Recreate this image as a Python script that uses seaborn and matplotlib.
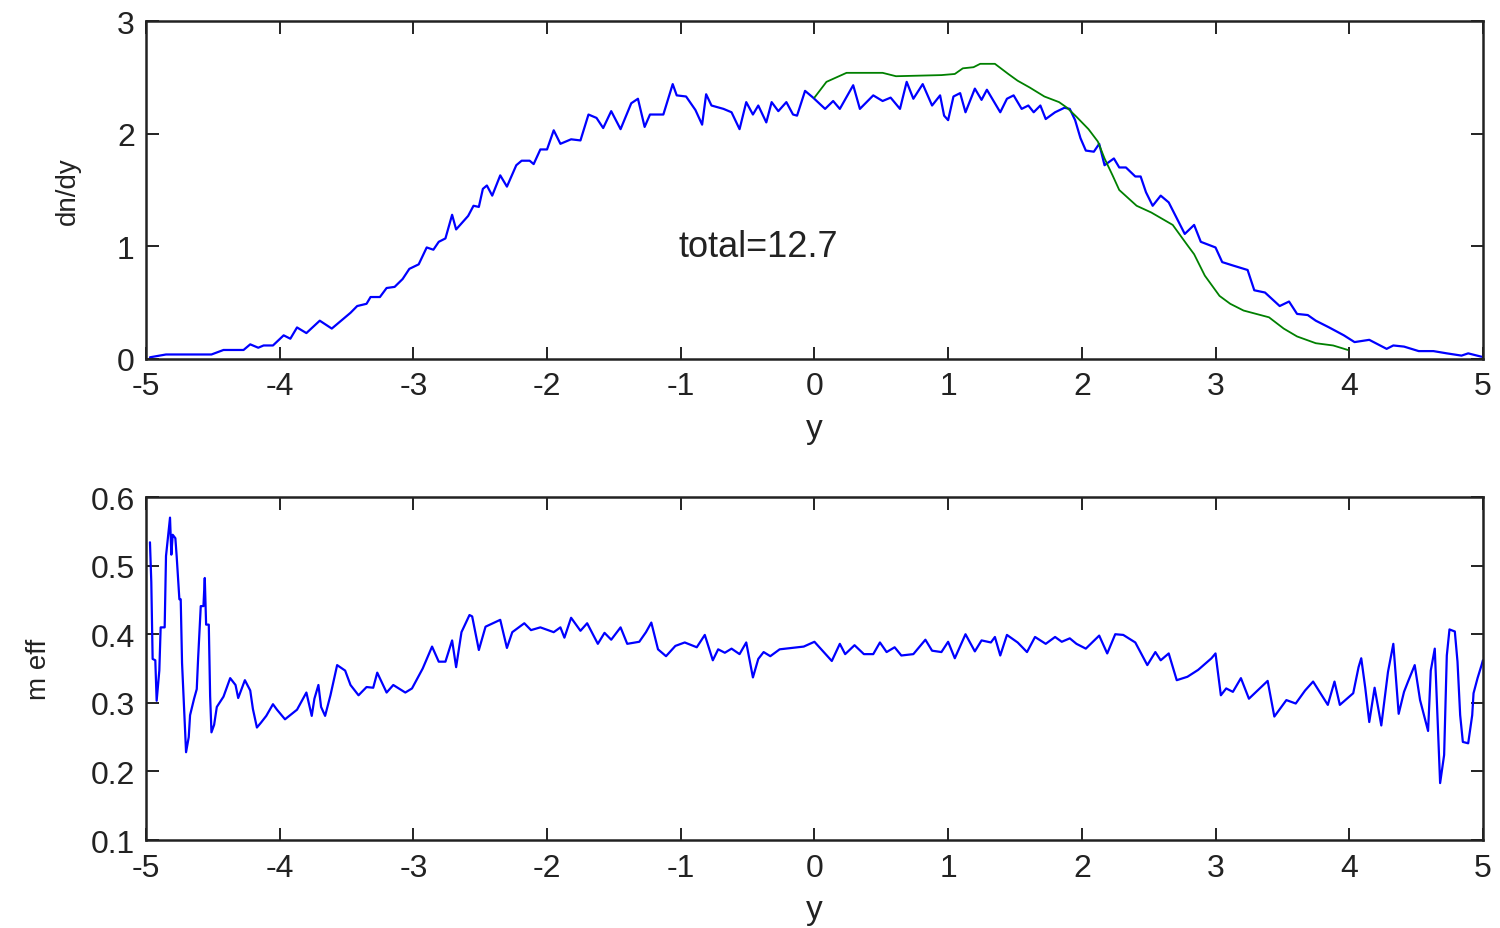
"""Rapidity distribution dn/dy and effective mass m eff versus y"""

import matplotlib
matplotlib.use("Agg")
import matplotlib.pyplot as plt
import pandas as pd
import seaborn as sns

# top panel, blue curve: dn/dy
dndy_y = [-4.97, -4.85, -4.51, -4.42, -4.27, -4.22, -4.16, -4.12, -4.05, -3.97, -3.92, -3.87, -3.80,
          -3.70, -3.61, -3.47, -3.42, -3.35, -3.32, -3.25, -3.20, -3.14, -3.08, -3.03, -2.96, -2.90,
          -2.85, -2.81, -2.76, -2.71, -2.68, -2.59, -2.55, -2.51, -2.48, -2.45, -2.41, -2.35, -2.30,
          -2.23, -2.19, -2.13, -2.10, -2.05, -2.00, -1.95, -1.90, -1.82, -1.75, -1.69, -1.63, -1.58,
          -1.52, -1.45, -1.37, -1.32, -1.27, -1.23, -1.13, -1.06, -1.03, -0.96, -0.89, -0.84, -0.81,
          -0.77, -0.68, -0.62, -0.56, -0.51, -0.46, -0.42, -0.36, -0.32, -0.27, -0.21, -0.16, -0.13,
          -0.07, -0.01, 0.08, 0.14, 0.19, 0.29, 0.34, 0.44, 0.51, 0.57, 0.64, 0.69, 0.74, 0.81, 0.88,
          0.94, 0.97, 1.00, 1.04, 1.09, 1.13, 1.20, 1.25, 1.29, 1.33, 1.39, 1.44, 1.49, 1.55, 1.60,
          1.64, 1.69, 1.73, 1.80, 1.87, 1.91, 1.95, 1.99, 2.03, 2.09, 2.13, 2.17, 2.24, 2.28, 2.33,
          2.40, 2.44, 2.48, 2.53, 2.59, 2.65, 2.71, 2.77, 2.84, 2.89, 3.00, 3.05, 3.13, 3.24, 3.29,
          3.37, 3.48, 3.55, 3.61, 3.69, 3.75, 3.85, 3.96, 4.04, 4.15, 4.28, 4.33, 4.41, 4.52, 4.63,
          4.73, 4.84, 4.89, 4.99]
dndy_val = [0.015, 0.04, 0.04, 0.08, 0.08, 0.13, 0.10, 0.12, 0.12, 0.21, 0.18, 0.28, 0.23,
            0.34, 0.27, 0.41, 0.47, 0.49, 0.55, 0.55, 0.63, 0.64, 0.71, 0.80, 0.84, 0.99,
            0.97, 1.04, 1.07, 1.28, 1.15, 1.27, 1.36, 1.35, 1.51, 1.54, 1.45, 1.63, 1.53,
            1.72, 1.76, 1.76, 1.73, 1.86, 1.86, 2.03, 1.91, 1.95, 1.94, 2.17, 2.14, 2.05,
            2.20, 2.04, 2.27, 2.31, 2.06, 2.17, 2.17, 2.44, 2.34, 2.33, 2.21, 2.08, 2.35,
            2.25, 2.22, 2.19, 2.04, 2.28, 2.17, 2.25, 2.10, 2.28, 2.20, 2.28, 2.17, 2.16,
            2.38, 2.32, 2.22, 2.29, 2.22, 2.43, 2.22, 2.34, 2.29, 2.32, 2.22, 2.46, 2.31, 2.44, 2.25,
            2.34, 2.16, 2.12, 2.33, 2.36, 2.19, 2.40, 2.30, 2.39, 2.31, 2.19, 2.31, 2.34, 2.22, 2.25,
            2.19, 2.25, 2.13, 2.19, 2.23, 2.22, 2.12, 1.96, 1.85, 1.84, 1.91, 1.72, 1.78, 1.70, 1.70,
            1.62, 1.62, 1.48, 1.36, 1.45, 1.39, 1.25, 1.11, 1.19, 1.04, 0.99, 0.86, 0.83, 0.79, 0.61,
            0.59, 0.47, 0.51, 0.40, 0.39, 0.34, 0.28, 0.21, 0.15, 0.17, 0.09, 0.12, 0.11, 0.07, 0.07,
            0.05, 0.03, 0.05, 0.02]

# top panel, green curve (y > 0 only)
ref_y = [0.00, 0.09, 0.24, 0.51, 0.61, 0.95, 1.05, 1.11, 1.19, 1.24, 1.35, 1.45, 1.52, 1.61,
         1.72, 1.83, 1.89, 1.96, 2.05, 2.12, 2.17, 2.23, 2.28, 2.41, 2.52, 2.68, 2.79, 2.84,
         2.92, 3.03, 3.11, 3.21, 3.40, 3.51, 3.61, 3.75, 3.88, 3.99]
ref_val = [2.32, 2.46, 2.54, 2.54, 2.51, 2.52, 2.53, 2.58, 2.59, 2.62, 2.62, 2.53, 2.47, 2.41,
           2.33, 2.28, 2.23, 2.15, 2.04, 1.93, 1.78, 1.63, 1.50, 1.36, 1.30, 1.19, 1.01, 0.93,
           0.74, 0.56, 0.49, 0.43, 0.37, 0.27, 0.20, 0.14, 0.12, 0.08]

# bottom panel: m eff
meff_y = [-4.97, -4.96, -4.95, -4.93, -4.92, -4.90, -4.89, -4.86, -4.85, -4.82, -4.81, -4.80,
          -4.78, -4.77, -4.75, -4.74, -4.73, -4.71, -4.70, -4.68, -4.67, -4.64, -4.62, -4.61,
          -4.59, -4.57, -4.56, -4.55, -4.53, -4.52, -4.51, -4.49, -4.47, -4.42, -4.37, -4.33,
          -4.31, -4.26, -4.22, -4.20, -4.17, -4.14, -4.10, -4.05, -4.02, -3.96, -3.87, -3.80,
          -3.76, -3.74, -3.71, -3.69, -3.66, -3.62, -3.57, -3.51, -3.47, -3.41, -3.35, -3.30,
          -3.27, -3.20, -3.15, -3.06, -3.01, -2.93, -2.86, -2.81, -2.76, -2.71, -2.68, -2.64,
          -2.58, -2.56, -2.51, -2.46, -2.35, -2.30, -2.26, -2.17, -2.12, -2.05, -1.95, -1.90,
          -1.87, -1.82, -1.75, -1.70, -1.62, -1.57, -1.52, -1.45, -1.40, -1.31, -1.26, -1.22,
          -1.17, -1.11, -1.04, -0.97, -0.88, -0.82, -0.76, -0.72, -0.67, -0.62, -0.56, -0.51,
          -0.46, -0.42, -0.38, -0.33, -0.26, -0.08, 0.00, 0.13, 0.19, 0.23, 0.30, 0.37, 0.44,
          0.49, 0.54, 0.60, 0.65, 0.74, 0.83, 0.88, 0.95, 1.00, 1.05, 1.13, 1.20, 1.25, 1.32,
          1.35, 1.39, 1.44, 1.52, 1.59, 1.65, 1.73, 1.80, 1.85, 1.91, 1.96, 2.03, 2.13, 2.19,
          2.25, 2.31, 2.40, 2.49, 2.55, 2.59, 2.65, 2.71, 2.79, 2.87, 2.97, 3.00, 3.04, 3.08,
          3.13, 3.19, 3.25, 3.39, 3.44, 3.53, 3.60, 3.67, 3.73, 3.84, 3.89, 3.93, 4.03, 4.07,
          4.09, 4.12, 4.15, 4.19, 4.24, 4.27, 4.29, 4.33, 4.37, 4.41, 4.44, 4.49, 4.53, 4.59,
          4.61, 4.64, 4.68, 4.71, 4.72, 4.73, 4.75, 4.79, 4.81, 4.83, 4.85, 4.89, 4.92, 4.93,
          4.96, 4.99, 5.00]
meff_val = [0.534, 0.476, 0.364, 0.362, 0.303, 0.347, 0.410, 0.410, 0.514, 0.570, 0.516, 0.545,
            0.540, 0.513, 0.451, 0.451, 0.358, 0.272, 0.228, 0.250, 0.282, 0.306, 0.320, 0.364,
            0.441, 0.441, 0.482, 0.414, 0.414, 0.310, 0.257, 0.268, 0.294, 0.309, 0.336, 0.326,
            0.307, 0.333, 0.318, 0.291, 0.264, 0.271, 0.281, 0.298, 0.290, 0.276, 0.290, 0.315,
            0.281, 0.306, 0.326, 0.294, 0.281, 0.311, 0.355, 0.347, 0.326, 0.311, 0.323, 0.322,
            0.344, 0.315, 0.326, 0.315, 0.321, 0.350, 0.382, 0.360, 0.360, 0.391, 0.352, 0.403,
            0.428, 0.426, 0.377, 0.411, 0.421, 0.380, 0.403, 0.416, 0.406, 0.410, 0.403, 0.410,
            0.395, 0.424, 0.405, 0.416, 0.386, 0.402, 0.392, 0.410, 0.386, 0.389, 0.403, 0.417,
            0.378, 0.368, 0.383, 0.388, 0.381, 0.399, 0.362, 0.378, 0.373, 0.379, 0.371, 0.388,
            0.337, 0.364, 0.374, 0.368, 0.378, 0.382, 0.389, 0.361, 0.386, 0.371, 0.384, 0.371, 0.371,
            0.388, 0.374, 0.381, 0.369, 0.371, 0.392, 0.376, 0.374, 0.389, 0.365, 0.400, 0.375, 0.391, 0.388,
            0.396, 0.369, 0.399, 0.388, 0.374, 0.396, 0.386, 0.396, 0.389, 0.394, 0.386, 0.379, 0.398, 0.372,
            0.400, 0.399, 0.388, 0.355, 0.374, 0.362, 0.372, 0.333, 0.338, 0.348, 0.365, 0.372, 0.311, 0.321,
            0.316, 0.336, 0.306, 0.332, 0.280, 0.304, 0.299, 0.318, 0.331, 0.297, 0.331, 0.297, 0.314, 0.352,
            0.365, 0.322, 0.272, 0.322, 0.267, 0.314, 0.345, 0.386, 0.284, 0.316, 0.331, 0.355, 0.304, 0.259,
            0.347, 0.379, 0.183, 0.224, 0.297, 0.369, 0.407, 0.404, 0.360, 0.282, 0.243, 0.241, 0.282, 0.314,
            0.336, 0.355, 0.362]

sns.set_style("ticks")
plt.rcParams['font.family'] = ['Liberation Sans', 'DejaVu Sans']
plt.rcParams['axes.unicode_minus'] = False

INK = '#222222'


def style_axes(ax, ylim, yticks, ytick_labels, ylabel, ylabel_pad):
    """MATLAB-like box axes with inward ticks on every side"""
    ax.set_xlim(-5, 5)
    ax.set_ylim(*ylim)
    ax.set_xticks(range(-5, 6))
    ax.set_yticks(yticks)
    ax.set_yticklabels(ytick_labels)
    ax.tick_params(direction='in', length=9, width=1.4, top=True, right=True,
                   labelsize=23, color=INK, labelcolor=INK)
    ax.tick_params(axis='x', pad=9)
    ax.tick_params(axis='y', pad=8)
    for spine in ax.spines.values():
        spine.set_visible(True)
        spine.set_linewidth(1.8)
        spine.set_color(INK)
    ax.set_xlabel('y', fontsize=24, labelpad=8, color=INK)
    ax.set_ylabel(ylabel, fontsize=20, labelpad=ylabel_pad, color=INK)


fig = plt.figure(figsize=(15, 9.29), dpi=100)
ax1 = fig.add_axes([0.0973, 0.6125, 0.8913, 0.3638])
ax2 = fig.add_axes([0.0973, 0.0947, 0.8913, 0.3692])

top = pd.DataFrame({'y': dndy_y, 'dn/dy': dndy_val})
green = pd.DataFrame({'y': ref_y, 'dn/dy': ref_val})
bottom = pd.DataFrame({'y': meff_y, 'm eff': meff_val})

sns.lineplot(data=top, x='y', y='dn/dy', ax=ax1, color='#0000ff', linewidth=1.6,
             estimator=None, sort=False)
sns.lineplot(data=green, x='y', y='dn/dy', ax=ax1, color='#008000', linewidth=1.3,
             estimator=None, sort=False)
sns.lineplot(data=bottom, x='y', y='m eff', ax=ax2, color='#0000ff', linewidth=1.6,
             estimator=None, sort=False)

style_axes(ax1, (0, 3), [0, 1, 2, 3], ['0', '1', '2', '3'], 'dn/dy', 26)
style_axes(ax2, (0.1, 0.6), [0.1, 0.2, 0.3, 0.4, 0.5, 0.6],
           ['0.1', '0.2', '0.3', '0.4', '0.5', '0.6'], 'm eff', 28)

ax1.text(-1.02, 1.0, 'total=12.7', fontsize=26, ha='left', va='center', color=INK)

fig.savefig('out.png', dpi=100)
